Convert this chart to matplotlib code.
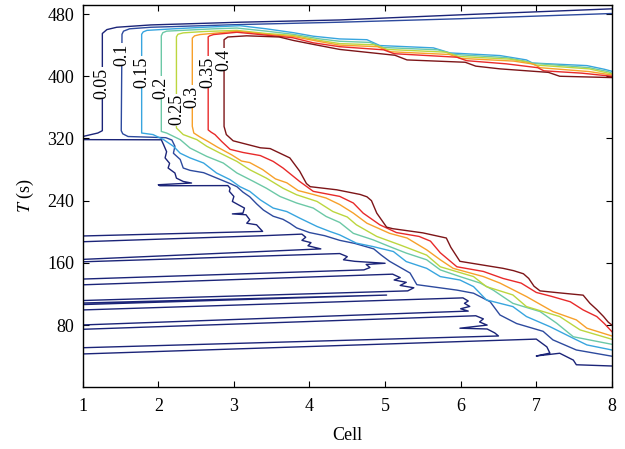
import numpy as np
import matplotlib
matplotlib.use("Agg")
import matplotlib.pyplot as plt

plt.rcParams['font.family'] = 'Liberation Serif'
plt.rcParams['mathtext.fontset'] = 'stix'

# contour levels and their colours (jet-like)
levels = ['0.05', '0.1', '0.15', '0.2', '0.25', '0.3', '0.35', '0.4']
level_colors = ['#1b2478', '#2d4a9e', '#38a5df', '#6cc8a6', '#bcd63e', '#f7a02a', '#e82a2a', '#7d1518']

# each level: upper branch (right edge -> left), vertical drop, lower branch (-> right edge)
cell_005 = [8, 6.0, 4.4, 3.08, 1.9, 1.45, 1.32, 1.26, 1.26, 1.2, 1.0]
time_005 = [486.7, 479, 472.4, 469.5, 466, 463, 460, 455, 330, 327, 322.5]

# thin 0.05 tongues in the lower-left region (nan = break at the left edge)
nan = np.nan
cell_005_low = [1, 2.04, 2.07, 2.11, 2.09, 2.15, 2.13, 2.22, 2.24, 2.33, 2.44, 2.0, 2.02, 2.92, 2.95,
                2.94, 3.0, 2.98, 3.06, 3.14, 3.12, 2.98, 3.16, 3.21, 3.17, 3.3, 3.34, 3.38, 1, nan,
                1, 3.4, 3.9, 3.95, 3.9, 4.02, 3.98, 4.15, 1, nan,
                1, 4.4, 4.5, 4.45, 4.6, 5.0, 4.75, 4.8, 4.72, 1, nan,
                1, 5.1, 5.2, 5.12, 5.28, 5.2, 5.38, 5.3, 1, nan,
                1, 5.02, 1, nan,
                1, 6.03, 6.1, 6.05, 6.12, 6.0, 6.1, 1, nan,
                1, 6.2, 6.3, 6.25, 6.35, 5.99, 6.35, 6.45, 6.5, 1, nan,
                1, 7.0, 7.14, 7.18, 7.0, 7.31, 7.49, 7.53, 8]
time_005_low = [318.5, 318.3, 312, 303, 295, 288, 282, 275.6, 269, 264.7, 262.7, 260.5, 259.2, 259.4, 256,
                252, 245.4, 239, 234.7, 230.5, 224, 223, 221.9, 215.4, 211, 209, 204.7, 200.5, 194.6, nan,
                187.2, 195, 197, 193, 189, 186, 182, 178, 164.5, nan,
                161.4, 172, 168, 164, 162, 159.5, 158, 154, 151, 139.2, nan,
                131.8, 145.5, 141, 138, 135, 131, 128, 124, 111.6, nan,
                108.4, 118.6, 106.4, nan,
                99.5, 115, 111, 108, 104, 101, 98, 80.2, nan,
                74.6, 92, 88, 84, 80, 76, 75, 70, 66, 50.9, nan,
                42.9, 62, 52, 44, 40.3, 43.8, 35, 29, 27.4]

cell_010 = [8, 6.0, 4.4, 3.08, 1.9, 1.62, 1.54, 1.52, 1.51, 1.53, 1.6, 2.10, 2.18, 2.22, 2.20, 2.29,
            2.33, 2.42, 2.6, 2.8, 2.95, 3.04, 3.12, 3.21, 3.30, 3.39, 3.52, 3.65, 3.74, 3.83, 4.0,
            4.2, 4.4, 4.6, 4.85, 4.95, 5.06, 5.33, 5.42, 5.95, 6.17, 6.39, 6.52, 6.74, 7.09, 7.22, 7.53, 8]
time_010 = [480.7, 474, 469.5, 466.5, 463, 461, 458, 454, 330, 326, 322.5, 321, 318, 310, 301, 293,
            282, 279, 276, 268, 262, 258, 251, 245, 236, 228, 220, 216, 211, 205, 199,
            195, 189, 185, 178, 170, 162, 147, 132, 125, 121, 110, 93, 82, 72, 61, 48, 40]

cell_015 = [8, 7.9, 7.67, 6.95, 6.87, 6.52, 5.86, 5.64, 4.93, 4.76, 4.4, 4.05, 3.79, 3.43, 3.08, 2.6,
            2.2, 1.85, 1.80, 1.78, 1.78, 1.93, 2.07, 2.20, 2.29, 2.42, 2.60, 2.77, 2.95, 3.08, 3.21,
            3.35, 3.52, 3.70, 3.87, 4.10, 4.27, 4.40, 4.62, 4.84, 5.11, 5.28, 5.55, 5.73, 5.99, 6.17,
            6.34, 6.69, 6.87, 7.18, 7.49, 7.67, 8]
time_015 = [406.4, 409, 413.7, 417, 421, 426.6, 430, 436.5, 439.5, 447, 448, 451.5, 456, 461, 465, 463,
            461, 459, 457, 454, 327, 325, 318.5, 310, 301, 295, 288.4, 275.6, 267, 258, 252,
            241, 230.5, 226, 217.6, 206.8, 200.4, 196, 185.4, 181, 174.6, 161.7, 153, 142.4, 138, 129.5,
            112.4, 103.8, 91, 78, 63, 54.5, 48]

cell_020 = [8, 7.95, 7.7, 6.93, 6.85, 6.6, 5.92, 5.7, 4.98, 4.8, 4.4, 4.14, 3.78, 3.43, 3.04, 2.73,
            2.11, 2.06, 2.04,
            2.04, 2.11, 2.29, 2.42, 2.64, 2.86, 3.04, 3.26, 3.43, 3.61, 3.83, 4.05, 4.22, 4.40, 4.58,
            4.84, 5.06, 5.28, 5.55, 5.73, 5.99, 6.26, 6.43, 6.69, 7.05, 7.27, 7.49, 8]
time_020 = [404, 406, 411, 417, 419.5, 424, 428, 434, 437, 443.5, 445, 448, 454, 458, 462, 461,
            458, 456, 452,
            329, 327, 318.5, 307.7, 297, 288.4, 275.6, 264.7, 256, 245.4, 237, 230.5, 219.7, 212, 198,
            189.7, 181, 172.6, 164, 151, 142.4, 134, 125, 108, 97.4, 82.4, 65, 55.3]

cell_025 = [8, 7.7, 6.98, 6.9, 6.65, 5.97, 5.8, 5.03, 4.85, 4.4, 4.14, 3.79, 3.43, 3.04, 2.6, 2.33,
            2.26, 2.24,
            2.24, 2.33, 2.51, 2.64, 2.82, 3.04, 3.21, 3.43, 3.65, 3.83, 4.10, 4.31, 4.5, 4.62, 4.89,
            5.20, 5.55, 5.73, 6.17, 6.34, 6.69, 6.87, 7.31, 7.58, 8]
time_025 = [403, 409.5, 414.5, 418, 422, 425.5, 431, 434.5, 440.5, 442, 446, 452.5, 455, 459, 457.5, 455.8,
            454, 450.7,
            333.5, 325, 318.5, 310, 301, 290.5, 279.8, 269, 256, 247.6, 239, 226, 219, 209, 194,
            183, 170, 155, 142.4, 129.5, 118.8, 103.8, 91, 73.8, 61.8]

cell_030 = [8, 7.7, 7.05, 6.97, 6.7, 6.0, 5.85, 5.07, 4.9, 4.4, 4.14, 3.79, 3.43, 3.04, 2.55, 2.48, 2.45,
            2.45, 2.47, 2.55, 2.66, 2.78, 2.97, 3.1, 3.21, 3.38, 3.55, 3.7, 3.85, 4.05, 4.22, 4.40,
            4.58, 4.76, 5.06, 5.29, 5.55, 5.73, 5.90, 6.30, 6.52, 6.87, 7.22, 7.53, 7.67, 8]
time_030 = [401.6, 406, 411, 415.5, 419.5, 423, 428, 431.5, 438, 440, 444.5, 451, 454, 458, 453.6, 452, 449,
            335.6, 327, 322, 316, 309, 299, 291, 289, 280, 268, 263, 253, 248, 243.4, 235,
            224, 211, 198, 192, 176.8, 164, 153, 142.4, 134, 116.7, 97.4, 86.7, 76, 66]

cell_035 = [8, 7.6, 7.1, 7.02, 6.6, 6.08, 5.95, 5.12, 4.98, 4.4, 4.05, 3.78, 3.04, 2.73, 2.68, 2.66,
            2.66, 2.7, 2.75, 2.84, 2.95, 3.12, 3.35, 3.52, 3.65, 3.87, 4.05, 4.40, 4.58, 4.71, 4.93,
            5.15, 5.45, 5.6, 5.73, 5.95, 6.30, 6.56, 6.8, 7.0, 7.2, 7.45, 7.62, 7.80, 7.9, 8]
time_035 = [400, 404, 407, 411, 416, 420, 424.5, 429, 434, 438, 443, 449.5, 456.6, 453.6, 452, 450.7,
            331, 328, 325, 316, 306, 302, 298, 290.5, 282, 264.7, 252, 245.5, 237, 224, 209,
            199, 194, 188, 173, 155, 149, 140, 134, 122, 117, 110, 99.5, 91, 82, 71.6]

cell_040 = [8, 7.31, 7.16, 6.52, 6.2, 6.06, 5.29, 5.13, 4.4, 4.05, 3.79, 3.6, 3.17, 2.92, 2.87,
            2.87, 2.9, 2.99, 3.35, 3.48, 3.61, 3.74, 3.87, 3.96, 4.01, 4.36, 4.67, 4.76, 4.82, 4.89,
            5.02, 5.1, 5.5, 5.81, 5.87, 5.99, 6.56, 6.7, 6.83, 6.9, 6.97, 7.05, 7.3, 7.62, 7.71,
            7.8, 7.89, 7.95, 8]
time_040 = [398.3, 400, 405, 409.5, 413, 418, 421, 427, 434.5, 441, 446, 450.5, 452, 450.5, 447,
            335.5, 325, 317, 308, 307, 301, 295, 278, 262, 258, 254, 248, 245, 240, 224,
            206, 204, 198.6, 192, 180, 162, 153, 150, 146, 140, 130, 124, 121.5, 118.5, 108,
            100, 91, 84, 80]

# where the inline labels sit
label_cell = [1.26, 1.52, 1.78, 2.04, 2.24, 2.45, 2.66, 2.87]
label_time = [391, 428, 405, 385, 357, 374, 405, 421.5]

curves = [(cell_005, time_005), (cell_010, time_010), (cell_015, time_015), (cell_020, time_020),
          (cell_025, time_025), (cell_030, time_030), (cell_035, time_035), (cell_040, time_040)]

fig, ax = plt.subplots(figsize=(6.25, 4.49), dpi=100)
fig.subplots_adjust(left=0.1323, right=0.979, bottom=0.1374, top=0.9895)

for (cx, ty), col in zip(curves, level_colors):
    ax.plot(cx, ty, color=col, lw=1.0)
ax.plot(cell_005_low, time_005_low, color=level_colors[0], lw=1.0)

for lab, cx, ty in zip(levels, label_cell, label_time):
    ax.text(cx, ty, lab, rotation=90, ha='center', va='center', fontsize=13,
            bbox=dict(facecolor='white', edgecolor='none', pad=0.3))

ax.set_xlim(1, 8)
ax.set_ylim(0, 492)
ax.set_xticks(range(1, 9))
ax.set_yticks([80, 160, 240, 320, 400, 480])
ax.tick_params(direction='in', top=True, right=True, labelsize=13, length=4, width=0.8)
ax.tick_params(axis='x', pad=8)
ax.tick_params(axis='y', pad=6)
for sp in ax.spines.values():
    sp.set_linewidth(1.0)
ax.set_xlabel('Cell', fontsize=13, labelpad=8)
ax.set_ylabel('$T$ (s)', fontsize=13, labelpad=8)

fig.savefig('out.png', dpi=100)
